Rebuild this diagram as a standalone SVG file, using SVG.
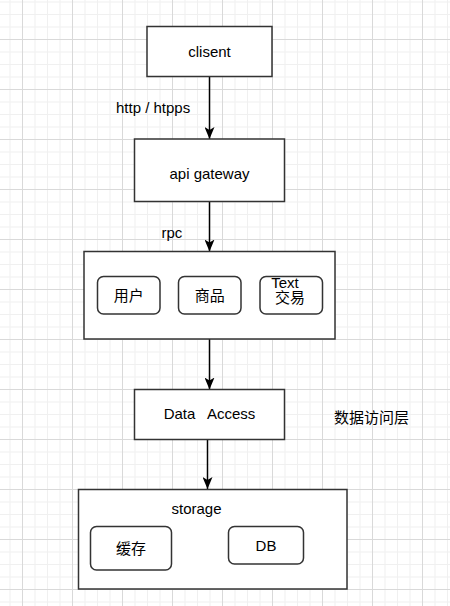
<svg xmlns="http://www.w3.org/2000/svg" width="450" height="606" viewBox="0 0 450 606">
  <defs>
    <pattern id="grid" patternUnits="userSpaceOnUse" x="22" y="39" width="50" height="50">
      <rect x="12.5" y="0" width="1" height="50" fill="#f0f0f0"/>
      <rect x="25" y="0" width="1" height="50" fill="#f0f0f0"/>
      <rect x="37.5" y="0" width="1" height="50" fill="#f0f0f0"/>
      <rect x="0" y="12.5" width="50" height="1" fill="#f0f0f0"/>
      <rect x="0" y="25" width="50" height="1" fill="#f0f0f0"/>
      <rect x="0" y="37.5" width="50" height="1" fill="#f0f0f0"/>
      <rect x="0" y="0" width="1" height="50" fill="#d9d9d9"/>
      <rect x="0" y="0" width="50" height="1" fill="#d9d9d9"/>
    </pattern>
    <marker id="arrow" markerUnits="userSpaceOnUse" viewBox="0 0 12 10" refX="12" refY="5" markerWidth="12" markerHeight="10" orient="auto">
      <path d="M0,0 L12,5 L0,10 L3,5 Z" fill="#000"/>
    </marker>
  </defs>
  <style>
    .box { fill: #fff; stroke: #333; stroke-width: 1.5; }
    .rbox { fill: #fff; stroke: #333; stroke-width: 1.5; }
    .t { font-family: "Liberation Sans", Arial, "Noto Sans CJK SC", sans-serif; font-size: 15px; fill: #000; text-anchor: middle; dominant-baseline: central; }
    .tl { font-family: "Liberation Sans", Arial, "Noto Sans CJK SC", sans-serif; font-size: 15px; fill: #000; dominant-baseline: central; }
    .edge { stroke: #000; stroke-width: 1.5; fill: none; marker-end: url(#arrow); }
  </style>
  <rect width="450" height="606" fill="#fff"/>
  <rect width="450" height="606" fill="url(#grid)"/>

  <g id="connectors">
    <line class="edge" x1="209.5" y1="77" x2="209.5" y2="139"/>
    <line class="edge" x1="209.5" y1="201.5" x2="209.5" y2="251.5"/>
    <line class="edge" x1="209.5" y1="339" x2="209.5" y2="389.5"/>
    <line class="edge" x1="207.5" y1="439.5" x2="207.5" y2="489"/>
    <text class="tl" x="116" y="107.5">http / htpps</text>
    <text class="tl" x="161.5" y="232.5">rpc</text>
  </g>

  <g id="clisent">
    <rect class="box" x="147" y="26.5" width="125" height="50"/>
    <text class="t" x="209.5" y="51.5">clisent</text>
  </g>

  <g id="api-gateway">
    <rect class="box" x="134.5" y="139" width="150" height="62.5"/>
    <text class="t" x="209.5" y="173">api gateway</text>
  </g>

  <g id="services">
    <rect class="box" x="84" y="251.5" width="251" height="87.5"/>
  </g>
  <g id="user">
    <rect class="rbox" x="97.5" y="276.5" width="62.5" height="37.5" rx="6"/>
    <text class="t" x="128.75" y="295.5">用户</text>
  </g>
  <g id="goods">
    <rect class="rbox" x="178.5" y="276.5" width="62.5" height="37.5" rx="6"/>
    <text class="t" x="209.75" y="295.5">商品</text>
  </g>
  <g id="trade">
    <rect class="rbox" x="260" y="276.5" width="62.5" height="37.5" rx="6"/>
    <text class="t" x="285" y="282.5">Text</text>
    <text class="t" x="290" y="297.5">交易</text>
  </g>

  <g id="data-access">
    <rect class="box" x="134.5" y="389.5" width="150" height="50"/>
    <text class="t" x="209.5" y="413.5" xml:space="preserve">Data   Access</text>
  </g>

  <g id="data-layer-label">
    <text class="t" x="371.5" y="417.5">数据访问层</text>
  </g>

  <g id="storage">
    <rect class="box" x="78.5" y="489.5" width="268.5" height="99.5"/>
    <text class="t" x="196.5" y="508">storage</text>
  </g>
  <g id="cache">
    <rect class="rbox" x="90.5" y="526.5" width="81" height="43.5" rx="6"/>
    <text class="t" x="131" y="548.5">缓存</text>
  </g>
  <g id="db">
    <rect class="rbox" x="228.5" y="526.5" width="75" height="37.5" rx="6"/>
    <text class="t" x="266" y="545.5">DB</text>
  </g>
</svg>
